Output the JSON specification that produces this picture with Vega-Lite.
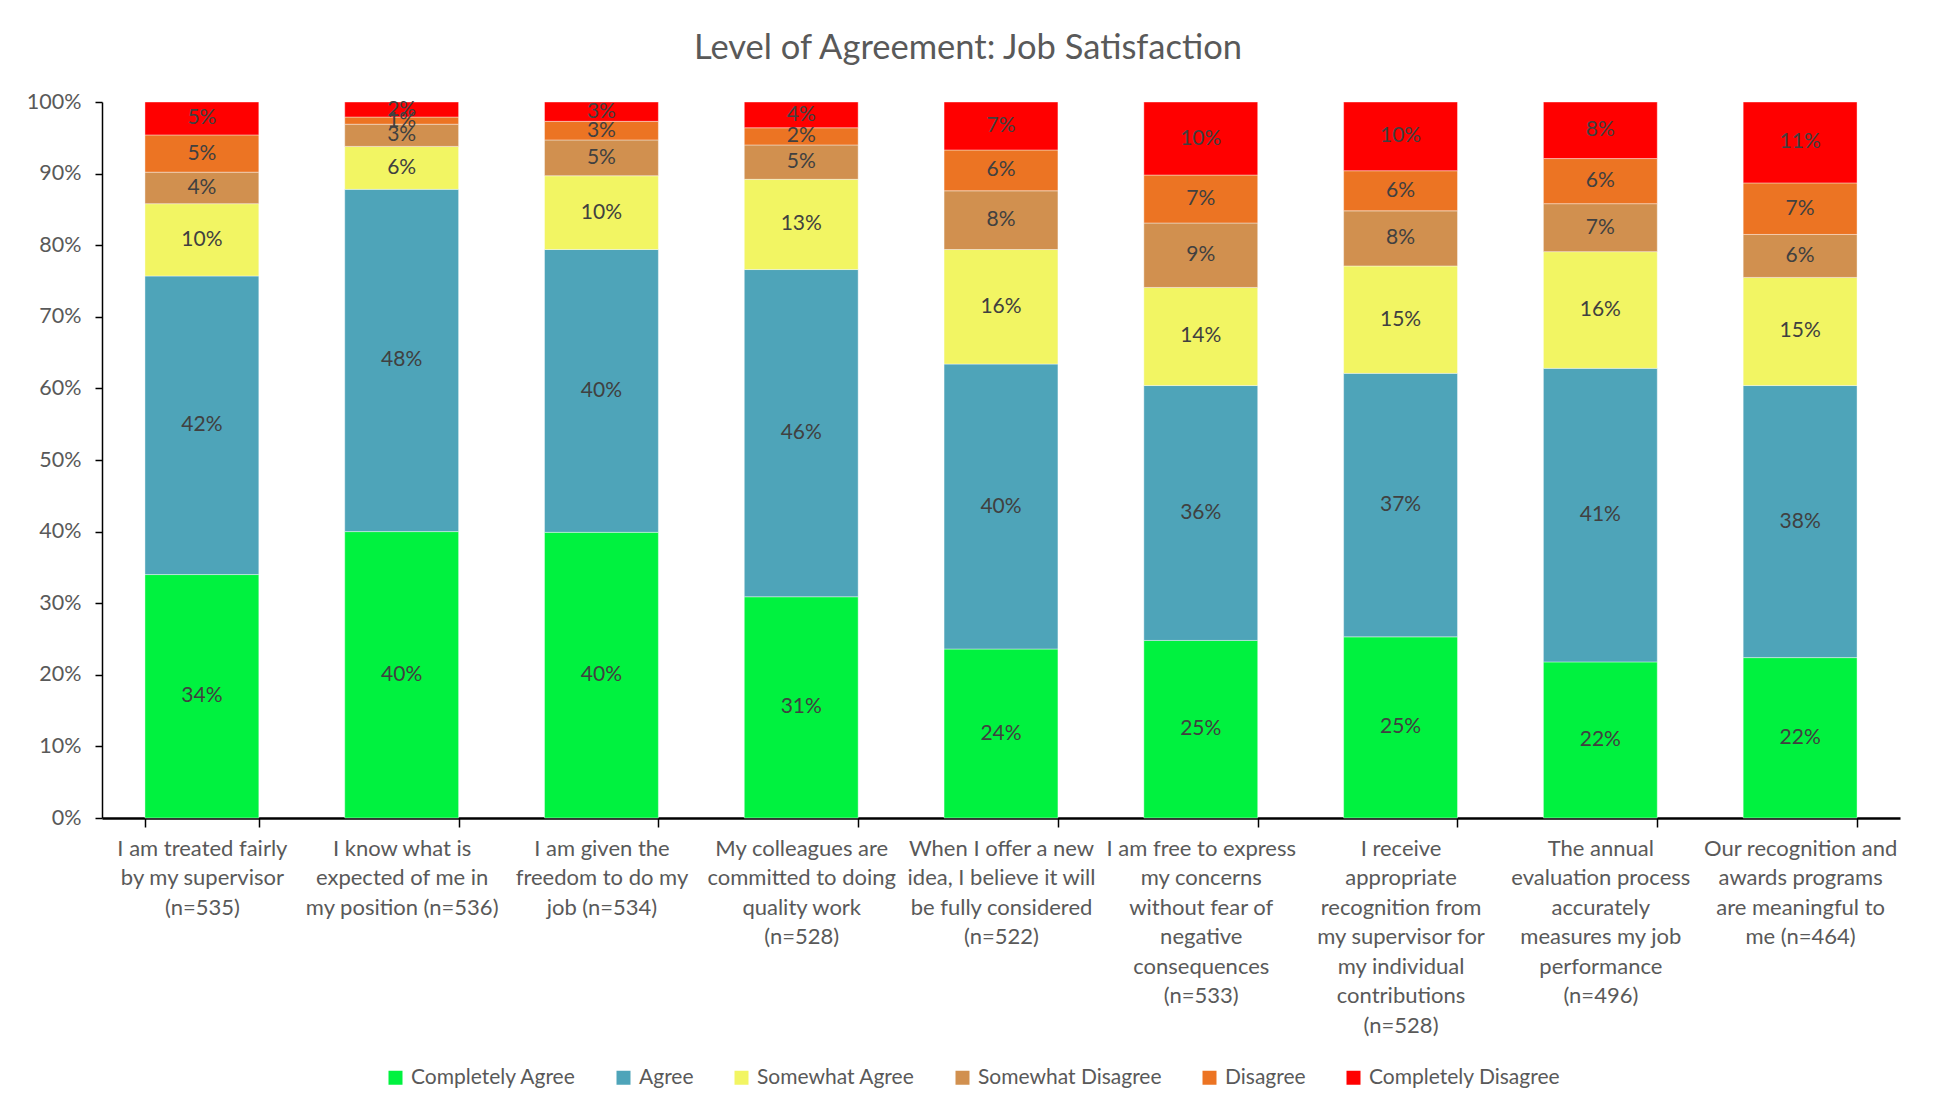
{
  "$schema": "https://vega.github.io/schema/vega-lite/v6.json",
  "width": 1798,
  "height": 716,
  "autosize": {"type": "none"},
  "padding": {"left": 102, "top": 102, "right": 35, "bottom": 295},
  "background": "white",
  "title": {
    "text": "Level of Agreement: Job Satisfaction",
    "font": "Lato",
    "fontSize": 34.5,
    "fontWeight": "normal",
    "color": "#595959",
    "anchor": "middle",
    "dx": -33,
    "offset": 25
  },
  "datasets": {
    "levels": [
      {"level": "Completely Agree", "rank": 1},
      {"level": "Agree", "rank": 2},
      {"level": "Somewhat Agree", "rank": 3},
      {"level": "Somewhat Disagree", "rank": 4},
      {"level": "Disagree", "rank": 5},
      {"level": "Completely Disagree", "rank": 6}
    ]
  },
  "data": {
    "values": [
      {"question": "I am treated fairly|by my supervisor|(n=535)", "Completely Agree": 0.340, "Agree": 0.417, "Somewhat Agree": 0.101, "Somewhat Disagree": 0.044, "Disagree": 0.052, "Completely Disagree": 0.046},
      {"question": "I know what is|expected of me in|my position (n=536)", "Completely Agree": 0.400, "Agree": 0.478, "Somewhat Agree": 0.060, "Somewhat Disagree": 0.031, "Disagree": 0.010, "Completely Disagree": 0.021},
      {"question": "I am given the|freedom to do my|job (n=534)", "Completely Agree": 0.399, "Agree": 0.395, "Somewhat Agree": 0.103, "Somewhat Disagree": 0.050, "Disagree": 0.026, "Completely Disagree": 0.027},
      {"question": "My colleagues are|committed to doing|quality work|(n=528)", "Completely Agree": 0.309, "Agree": 0.457, "Somewhat Agree": 0.126, "Somewhat Disagree": 0.048, "Disagree": 0.024, "Completely Disagree": 0.036},
      {"question": "When I offer a new|idea, I believe it will|be fully considered|(n=522)", "Completely Agree": 0.236, "Agree": 0.398, "Somewhat Agree": 0.160, "Somewhat Disagree": 0.082, "Disagree": 0.057, "Completely Disagree": 0.067},
      {"question": "I am free to express|my concerns|without fear of|negative|consequences|(n=533)", "Completely Agree": 0.248, "Agree": 0.356, "Somewhat Agree": 0.137, "Somewhat Disagree": 0.090, "Disagree": 0.067, "Completely Disagree": 0.102},
      {"question": "I receive|appropriate|recognition from|my supervisor for|my individual|contributions|(n=528)", "Completely Agree": 0.253, "Agree": 0.368, "Somewhat Agree": 0.150, "Somewhat Disagree": 0.077, "Disagree": 0.056, "Completely Disagree": 0.096},
      {"question": "The annual|evaluation process|accurately|measures my job|performance|(n=496)", "Completely Agree": 0.218, "Agree": 0.410, "Somewhat Agree": 0.163, "Somewhat Disagree": 0.067, "Disagree": 0.063, "Completely Disagree": 0.079},
      {"question": "Our recognition and|awards programs|are meaningful to|me (n=464)", "Completely Agree": 0.224, "Agree": 0.380, "Somewhat Agree": 0.151, "Somewhat Disagree": 0.060, "Disagree": 0.072, "Completely Disagree": 0.113}
    ]
  },
  "transform": [
    {"fold": ["Completely Agree", "Agree", "Somewhat Agree", "Somewhat Disagree", "Disagree", "Completely Disagree"], "as": ["level", "v"]},
    {"lookup": "level", "from": {"data": {"name": "levels"}, "key": "level", "fields": ["rank"]}},
    {"stack": "v", "groupby": ["question"], "sort": [{"field": "rank", "order": "ascending"}], "as": ["y0", "y1"]},
    {"calculate": "(datum.y0 + datum.y1) / 2", "as": "ymid"}
  ],
  "encoding": {
    "x": {
      "field": "question",
      "type": "nominal",
      "sort": null,
      "scale": {"paddingInner": 0.43, "paddingOuter": 0.215},
      "axis": {
        "title": null,
        "labelAngle": 0,
        "labelExpr": "split(datum.label, '|')",
        "labelFont": "Lato",
        "labelFontSize": 22,
        "labelColor": "#595959",
        "labelLineHeight": 29.5,
        "labelPadding": 11,
        "labelBaseline": "top",
        "labelLimit": 0,
        "domainColor": "black",
        "domainWidth": 2.5,
        "tickColor": "black",
        "tickWidth": 1.5,
        "tickSize": 9,
        "tickBand": "extent",
        "grid": false
      }
    }
  },
  "layer": [
    {
      "mark": {"type": "bar", "stroke": "white", "strokeWidth": 1, "strokeOpacity": 0.4},
      "encoding": {
        "y": {
          "field": "y0",
          "type": "quantitative",
          "scale": {"domain": [0, 1]},
          "axis": {
            "title": null,
            "format": ".0%",
            "values": [0, 0.1, 0.2, 0.3, 0.4, 0.5, 0.6, 0.7, 0.8, 0.9, 1],
            "labelFont": "Lato",
            "labelFontSize": 21.5,
            "labelColor": "#595959",
            "labelPadding": 14,
            "domainColor": "black",
            "domainWidth": 1.5,
            "tickColor": "black",
            "tickWidth": 1.5,
            "tickSize": 7,
            "grid": false
          }
        },
        "y2": {"field": "y1"},
        "color": {
          "field": "level",
          "type": "nominal",
          "scale": {
            "domain": ["Completely Agree", "Agree", "Somewhat Agree", "Somewhat Disagree", "Disagree", "Completely Disagree"],
            "range": ["#00F23F", "#4EA4B9", "#F2F563", "#D1904F", "#EC7423", "#FF0000"]
          },
          "legend": {
            "title": null,
            "orient": "none",
            "direction": "horizontal",
            "legendX": 283,
            "legendY": 965,
            "symbolType": "square",
            "symbolSize": 196,
            "symbolStrokeWidth": 0,
            "symbolOpacity": 1,
            "labelFont": "Lato",
            "labelFontSize": 21,
            "labelColor": "#595959",
            "labelOffset": 5,
            "columnPadding": 37,
            "labelLimit": 0
          }
        }
      }
    },
    {
      "mark": {"type": "text", "font": "Lato", "fontSize": 21, "color": "#404040", "baseline": "middle", "align": "center"},
      "encoding": {
        "y": {"field": "ymid", "type": "quantitative"},
        "text": {"field": "v", "type": "quantitative", "format": ".0%"}
      }
    }
  ],
  "config": {
    "view": {"stroke": null}
  }
}
